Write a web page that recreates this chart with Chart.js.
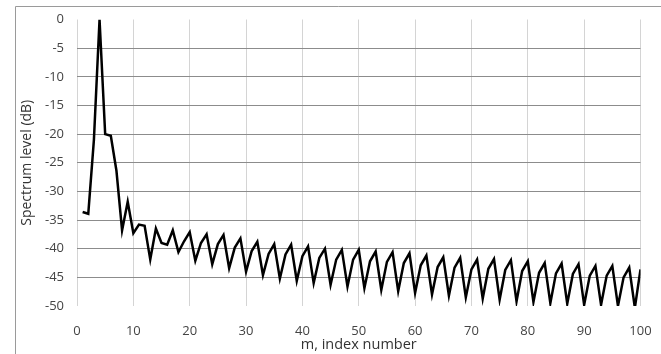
<!DOCTYPE html>
<html lang="en">
<head>
    <meta charset="utf-8">
    <title>Spectrum level</title>
    <script src="https://cdn.jsdelivr.net/npm/chart.js"></script>
    <style>
        html, body { margin: 0; padding: 0; background: #fff; }
        canvas { display: block; }
    </style>
</head>
<body>
    <canvas id="myChart" width="661" height="354"></canvas>
    <script>
        // index numbers m = 1..100
        const indexNumbers = [
            1, 2, 3, 4, 5, 6, 7, 8, 9, 10,
            11, 12, 13, 14, 15, 16, 17, 18, 19, 20,
            21, 22, 23, 24, 25, 26, 27, 28, 29, 30,
            31, 32, 33, 34, 35, 36, 37, 38, 39, 40,
            41, 42, 43, 44, 45, 46, 47, 48, 49, 50,
            51, 52, 53, 54, 55, 56, 57, 58, 59, 60,
            61, 62, 63, 64, 65, 66, 67, 68, 69, 70,
            71, 72, 73, 74, 75, 76, 77, 78, 79, 80,
            81, 82, 83, 84, 85, 86, 87, 88, 89, 90,
            91, 92, 93, 94, 95, 96, 97, 98, 99, 100
        ];
        // spectrum level in dB
        const spectrumDb = [
            -33.6, -33.9, -21.0, 0.0, -20.0, -20.3, -26.4, -36.8, -31.8, -37.3,
            -35.8, -36.0, -41.9, -36.5, -39.0, -39.3, -36.8, -40.6, -38.7, -37.1,
            -42.1, -39.0, -37.5, -42.7, -39.2, -37.6, -43.4, -39.8, -38.2, -44.0,
            -40.4, -38.8, -44.6, -40.9, -39.2, -45.2, -41.0, -39.3, -45.6, -41.3,
            -39.6, -46.0, -41.6, -40.0, -46.3, -41.9, -40.2, -46.6, -41.9, -40.2,
            -46.9, -42.2, -40.5, -47.2, -42.3, -40.6, -47.4, -42.5, -40.8, -47.7,
            -42.9, -41.2, -48.0, -43.2, -41.5, -48.2, -43.3, -41.6, -48.5, -43.6,
            -41.9, -48.7, -43.5, -41.8, -48.9, -43.7, -42.0, -49.2, -43.9, -42.2,
            -49.3, -44.2, -42.5, -49.5, -44.3, -42.6, -49.6, -44.4, -42.7, -49.8,
            -44.7, -43.0, -49.8, -44.7, -43.0, -50.0, -45.0, -43.3, -50.3, -43.6
        ];
        const xTicks = [0, 10, 20, 30, 40, 50, 60, 70, 80, 90, 100];
        const yTicks = [0, -5, -10, -15, -20, -25, -30, -35, -40, -45, -50];

        const points = indexNumbers.map((m, i) => ({ x: m, y: spectrumDb[i] }));

        // thin grey frame, only top and left edges are in the picture
        const framePlugin = {
            id: 'frame',
            afterDraw(chart) {
                const c = chart.ctx;
                c.save();
                c.strokeStyle = '#9a9a9a';
                c.lineWidth = 1;
                c.beginPath();
                c.moveTo(15.5, 354);
                c.lineTo(15.5, 6.5);
                c.lineTo(661, 6.5);
                c.stroke();
                c.restore();
            }
        };

        const tickFont = { family: 'Open Sans', size: 13 };

        var ctx = document.getElementById('myChart').getContext('2d');
        var myChart = new Chart(ctx, {
            type: 'line',
            data: {
                datasets: [{
                    label: 'Spectrum level',
                    data: points,
                    borderColor: '#000000',
                    borderWidth: 2.5,
                    pointRadius: 0,
                    tension: 0,
                    fill: false
                }]
            },
            options: {
                responsive: false,
                animation: false,
                layout: { padding: { left: 0, right: 20.5, top: 19.5, bottom: 0 } },
                plugins: {
                    legend: { display: false },
                    tooltip: { enabled: false }
                },
                scales: {
                    x: {
                        type: 'linear',
                        min: 0,
                        max: 100,
                        afterBuildTicks: s => { s.ticks = xTicks.map(v => ({ value: v })); },
                        afterFit: s => { s.height = 48; s.paddingLeft = 0; s.paddingRight = 0; },
                        border: { display: false },
                        grid: { color: '#d4d4d4', lineWidth: 1, drawTicks: false },
                        ticks: { color: '#444', font: tickFont, padding: 17, maxRotation: 0 },
                        title: {
                            display: true,
                            text: 'm, index number',
                            color: '#333',
                            font: { family: 'Open Sans', size: 14.5 },
                            padding: { top: 0, bottom: 0 }
                        }
                    },
                    y: {
                        min: -50,
                        max: 0,
                        afterBuildTicks: s => { s.ticks = yTicks.map(v => ({ value: v })); },
                        afterFit: s => { s.width = 77; s.paddingTop = 0; s.paddingBottom = 0; },
                        border: { display: false },
                        grid: {
                            drawTicks: false,
                            lineWidth: 1,
                            color: c => (c.tick && (c.tick.value === 0 || c.tick.value === -50)) ? 'rgba(0,0,0,0)' : '#8c8c8c'
                        },
                        ticks: { color: '#444', font: tickFont, padding: 13 },
                        title: {
                            display: true,
                            text: 'Spectrum level (dB)',
                            color: '#333',
                            font: { family: 'Open Sans', size: 14 },
                            padding: { top: 19, bottom: 0 }
                        }
                    }
                }
            },
            plugins: [framePlugin]
        });
    </script>
</body>
</html>
